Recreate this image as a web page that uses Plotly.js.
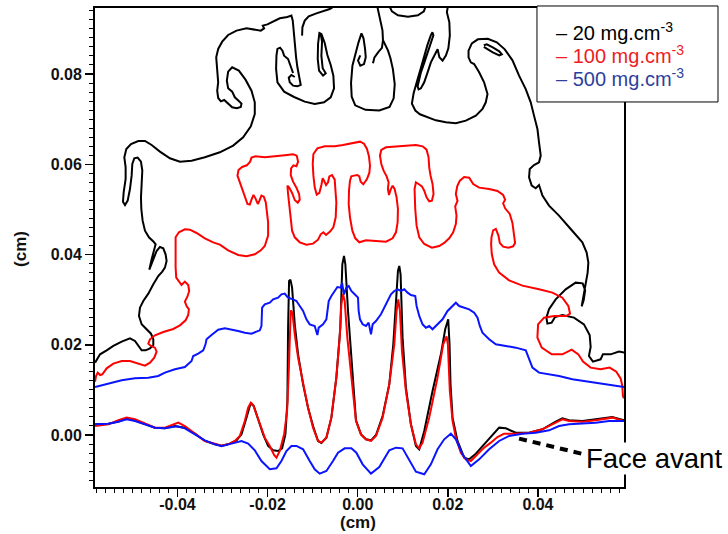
<!DOCTYPE html>
<html><head><meta charset="utf-8">
<script src="https://cdn.plot.ly/plotly-3.0.1.min.js"></script>
<style>html,body{margin:0;padding:0;background:#fff}#chart{width:728px;height:534px}</style>
</head><body><div id="chart"></div>
<script>
// ---------- data (cm) ----------
const seriesNames = ['20 mg.cm<sup>-3</sup>', '100 mg.cm<sup>-3</sup>', '500 mg.cm<sup>-3</sup>'];
const axisTitle = '(cm)';
const xTickVals = [-0.04, -0.02, 0, 0.02, 0.04];
const xTickText = ['-0.04', '-0.02', '0.00', '0.02', '0.04'];
const yTickVals = [0, 0.02, 0.04, 0.06, 0.08];
const yTickText = ['0.00', '0.02', '0.04', '0.06', '0.08'];

// 20 mg/cm3 - front face (lower contour)
const blackLowerX = [-0.05829,-0.05534,-0.05312,-0.05128,-0.04943,-0.04721,-0.04499,-0.04278,-0.04056,-0.03835,-0.03613,-0.03392,-0.03170,-0.03022,-0.02838,-0.02690,-0.02579,-0.02468,-0.02394,-0.02357,-0.02306,-0.02210,-0.02099,-0.01988,-0.01877,-0.01766,-0.01678,-0.01604,-0.01560,-0.01545,-0.01523,-0.01493,-0.01456,-0.01397,-0.01323,-0.01212,-0.01102,-0.00991,-0.00880,-0.00806,-0.00695,-0.00584,-0.00474,-0.00385,-0.00341,-0.00304,-0.00274,-0.00215,-0.00141,
-0.00038,0.00073,0.00184,0.00295,0.00406,0.00553,0.00701,0.00790,0.00849,0.00893,0.00923,0.00952,0.00996,0.01070,0.01181,0.01292,0.01366,0.01477,0.01661,0.01846,0.01942,0.02009,0.02038,0.02060,0.02105,0.02215,0.02363,0.02474,0.02622,0.02806,0.02991,0.03139,0.03287,0.03508,0.03804,0.04099,0.04395,0.04542,0.04690,0.04985,0.05281,0.05650,0.05909];
const blackLowerY = [0.00237,0.00252,0.00296,0.00370,0.00326,0.00237,0.00163,0.00148,0.00200,0.00163,0.00030,-0.00132,-0.00206,-0.00236,-0.00191,-0.00118,0.00015,0.00385,0.00643,0.00695,0.00643,0.00348,0.00015,-0.00243,-0.00339,-0.00354,-0.00295,0.00015,0.00754,0.02379,0.03413,0.03443,0.03266,0.02453,0.01788,0.01123,0.00606,0.00200,-0.00132,-0.00177,-0.00059,0.00385,0.01271,0.02379,0.03783,0.03967,0.03783,0.02749,0.01640,
0.00326,0.00015,-0.00095,-0.00118,0.00001,0.00422,0.01123,0.02010,0.03118,0.03635,0.03746,0.03561,0.02158,0.01050,0.00237,-0.00243,-0.00317,0.00089,0.00976,0.01788,0.02342,0.02564,0.02010,0.01123,0.00385,-0.00132,-0.00502,-0.00539,-0.00413,-0.00206,0.00015,0.00163,0.00148,0.00052,0.00052,0.00126,0.00296,0.00370,0.00326,0.00311,0.00348,0.00400,0.00326];

// 100 mg/cm3 - lower contour
const redLowerX = [-0.05829,-0.05534,-0.05312,-0.05128,-0.04943,-0.04721,-0.04499,-0.04278,-0.04093,-0.03982,-0.03835,-0.03613,-0.03392,-0.03170,-0.03022,-0.02875,-0.02727,-0.02616,-0.02505,-0.02431,-0.02372,-0.02320,-0.02210,-0.02062,-0.01951,-0.01855,-0.01803,-0.01729,-0.01633,-0.01567,-0.01530,-0.01508,-0.01486,-0.01449,-0.01397,-0.01323,-0.01212,-0.01102,-0.00991,-0.00880,-0.00806,-0.00695,-0.00584,-0.00474,-0.00400,-0.00363,-0.00326,-0.00289,-0.00230,-0.00141,
-0.00038,0.00073,0.00184,0.00295,0.00406,0.00553,0.00701,0.00812,0.00863,0.00900,0.00937,0.00982,0.01070,0.01181,0.01292,0.01366,0.01440,0.01587,0.01772,0.01898,0.01972,0.02001,0.02023,0.02045,0.02105,0.02178,0.02289,0.02400,0.02511,0.02659,0.02806,0.02954,0.03102,0.03250,0.03508,0.03804,0.04099,0.04395,0.04542,0.04690,0.04985,0.05281,0.05650,0.05909];
const redLowerY = [0.00200,0.00237,0.00326,0.00385,0.00348,0.00252,0.00163,0.00163,0.00237,0.00274,0.00200,0.00030,-0.00132,-0.00191,-0.00236,-0.00206,-0.00132,-0.00022,0.00311,0.00606,0.00717,0.00665,0.00348,-0.00059,-0.00243,-0.00443,-0.00502,-0.00354,0.00015,0.00533,0.01419,0.02379,0.02763,0.02712,0.02231,0.01714,0.01123,0.00606,0.00163,-0.00132,-0.00169,-0.00059,0.00385,0.01271,0.02158,0.02896,0.03118,0.02970,0.02158,0.01271,
0.00311,0.00015,-0.00095,-0.00132,-0.00022,0.00385,0.01123,0.02010,0.02749,0.03007,0.02749,0.01862,0.00976,0.00237,-0.00206,-0.00295,-0.00169,0.00385,0.01271,0.02010,0.02187,0.02010,0.01567,0.00976,0.00311,-0.00059,-0.00391,-0.00539,-0.00576,-0.00428,-0.00280,-0.00169,-0.00044,0.00030,0.00030,0.00052,0.00126,0.00274,0.00348,0.00311,0.00296,0.00326,0.00385,0.00311];

// 500 mg/cm3 - lower contour
const blueLowerX = [-0.05829,-0.05534,-0.05312,-0.05128,-0.04943,-0.04721,-0.04499,-0.04278,-0.04019,-0.03835,-0.03613,-0.03392,-0.03170,-0.03022,-0.02801,-0.02579,-0.02431,-0.02284,-0.02136,-0.01951,-0.01803,-0.01693,-0.01582,-0.01471,-0.01360,-0.01212,-0.01065,-0.00954,-0.00843,-0.00695,-0.00548,-0.00437,-0.00289,-0.00141,-0.00030,0.00051,
0.00110,0.00295,0.00479,0.00701,0.00849,0.00996,0.01144,0.01292,0.01477,0.01624,0.01772,0.01920,0.02068,0.02178,0.02326,0.02511,0.02695,0.02917,0.03139,0.03360,0.03656,0.03951,0.04247,0.04468,0.04690,0.04985,0.05281,0.05576,0.05909];
const blueLowerY = [0.00237,0.00252,0.00296,0.00348,0.00311,0.00237,0.00163,0.00148,0.00193,0.00148,0.00015,-0.00118,-0.00206,-0.00250,-0.00191,-0.00132,-0.00191,-0.00339,-0.00576,-0.00760,-0.00738,-0.00576,-0.00354,-0.00243,-0.00243,-0.00317,-0.00576,-0.00760,-0.00856,-0.00797,-0.00576,-0.00391,-0.00295,-0.00295,-0.00391,-0.00539,
-0.00649,-0.00856,-0.00709,-0.00339,-0.00280,-0.00295,-0.00539,-0.00812,-0.00871,-0.00649,-0.00317,-0.00095,0.00030,-0.00095,-0.00428,-0.00686,-0.00539,-0.00317,-0.00132,-0.00021,0.00030,0.00052,0.00104,0.00200,0.00237,0.00252,0.00274,0.00311,0.00311];

// 500 mg/cm3 - upper contour
const blueUpperX = [-0.05829,-0.05534,-0.05238,-0.04943,-0.04647,-0.04426,-0.04278,-0.04056,-0.03835,-0.03687,-0.03650,-0.03539,-0.03428,-0.03377,-0.03355,-0.03244,-0.03096,-0.02948,-0.02801,-0.02653,-0.02505,-0.02357,-0.02247,-0.02173,-0.02136,-0.02136,-0.02121,-0.02062,-0.01951,-0.01877,-0.01766,-0.01693,-0.01619,-0.01560,-0.01508,-0.01434,-0.01360,-0.01286,-0.01212,-0.01138,-0.01065,-0.00954,-0.00895,-0.00865,-0.00769,-0.00695,-0.00658,-0.00643,-0.00584,-0.00510,-0.00451,-0.00378,-0.00348,-0.00304,-0.00252,-0.00200,-0.00141,-0.00067,0.00007,
0.00021,0.00051,0.00110,0.00184,0.00243,0.00295,0.00332,0.00406,0.00516,0.00627,0.00738,0.00812,0.00886,0.00960,0.01034,0.01107,0.01181,0.01277,0.01307,0.01366,0.01440,0.01514,0.01587,0.01661,0.01772,0.01883,0.01994,0.02105,0.02178,0.02252,0.02363,0.02474,0.02585,0.02659,0.02710,0.02769,0.02917,0.03065,0.03287,0.03508,0.03730,0.03804,0.03878,0.04025,0.04247,0.04468,0.04764,0.05133,0.05503,0.05909];
const blueUpperY = [0.01064,0.01138,0.01212,0.01256,0.01271,0.01308,0.01382,0.01456,0.01508,0.01640,0.01751,0.01803,0.01877,0.02010,0.02121,0.02217,0.02335,0.02364,0.02342,0.02305,0.02268,0.02246,0.02291,0.02320,0.02416,0.02638,0.02822,0.02896,0.02933,0.03007,0.03044,0.03118,0.03133,0.03059,0.03029,0.03007,0.02970,0.02859,0.02749,0.02564,0.02453,0.02416,0.02217,0.02379,0.02453,0.02564,0.02786,0.02970,0.03081,0.03192,0.03280,0.03266,0.03376,0.03118,0.03266,0.03303,0.03192,0.03118,0.03044,
0.02749,0.02564,0.02453,0.02416,0.02490,0.02231,0.02453,0.02527,0.02675,0.02896,0.03118,0.03192,0.03229,0.03192,0.03229,0.03155,0.03103,0.03081,0.02859,0.02638,0.02453,0.02379,0.02416,0.02342,0.02453,0.02564,0.02749,0.02859,0.02933,0.02859,0.02822,0.02786,0.02712,0.02601,0.02416,0.02268,0.02121,0.02010,0.01973,0.01936,0.01877,0.01677,0.01493,0.01382,0.01345,0.01308,0.01234,0.01182,0.01138,0.01064];

// 100 mg/cm3 - upper (mushroom) contour
const redUpperX = [-0.05829,-0.05807,-0.05770,-0.05718,-0.05667,-0.05571,-0.05423,-0.05238,-0.05054,-0.04869,-0.04721,-0.04610,-0.04514,-0.04463,-0.04499,-0.04588,-0.04647,-0.04610,-0.04499,-0.04315,-0.04093,-0.03945,-0.03820,-0.03761,-0.03746,-0.03798,-0.03835,-0.03783,-0.03739,-0.03761,-0.03835,-0.03909,-0.03968,-0.04027,-0.04041,-0.04041,
-0.04041,-0.03968,-0.03835,-0.03724,-0.03576,-0.03392,-0.03207,-0.03059,
-0.02875,-0.02653,-0.02468,-0.02284,-0.02150,-0.02062,
-0.01988,-0.01988,-0.02010,-0.02040,-0.02084,-0.02136,-0.02180,-0.02217,-0.02269,-0.02313,-0.02357,-0.02394,-0.02446,-0.02498,-0.02557,-0.02616,-0.02668,-0.02645,-0.02564,-0.02461,-0.02387,-0.02357,-0.02269,-0.02062,-0.01840,-0.01619,-0.01434,-0.01353,-0.01323,-0.01360,-0.01427,-0.01478,-0.01486,-0.01434,-0.01360,-0.01301,-0.01286,-0.01330,-0.01397,-0.01456,-0.01523,-0.01560,-0.01545,-0.01515,-0.01486,-0.01456,-0.01397,-0.01286,-0.01138,-0.00991,-0.00880,-0.00821,-0.00762,-0.00703,-0.00614,-0.00540,-0.00488,-0.00474,-0.00496,-0.00510,-0.00570,-0.00629,-0.00658,-0.00703,-0.00747,-0.00777,-0.00806,-0.00850,-0.00909,-0.00954,-0.00983,-0.00998,-0.00983,-0.00895,-0.00732,-0.00510,-0.00326,-0.00141,0.00051,
0.00140,0.00206,0.00250,0.00273,0.00258,0.00206,0.00125,0.00066,0.00036,-0.00008,-0.00082,-0.00141,-0.00171,-0.00193,-0.00200,-0.00171,-0.00119,-0.00053,0.00036,0.00184,0.00406,0.00627,0.00775,0.00849,0.00886,0.00893,0.00863,0.00819,0.00775,0.00731,0.00694,0.00671,0.00686,0.00642,0.00575,0.00524,0.00494,0.00524,0.00627,0.00849,0.01070,0.01292,0.01440,0.01528,0.01573,0.01587,0.01617,0.01661,0.01683,0.01647,0.01587,0.01528,0.01477,0.01425,0.01351,0.01292,0.01262,0.01277,0.01307,0.01366,0.01477,0.01647,0.01809,0.01920,0.02031,0.02119,0.02178,0.02193,0.02164,0.02215,0.02178,0.02208,0.02267,0.02363,0.02474,0.02563,0.02696,0.02917,0.03102,0.03227,0.03272,0.03227,0.03272,0.03375,0.03434,0.03471,0.03493,0.03449,0.03346,0.03227,0.03154,0.03124,0.03065,0.03006,0.02969,0.02961,
0.02976,0.03028,0.03139,0.03360,0.03656,0.04025,0.04321,0.04542,0.04675,0.04712,0.04631,0.04358,0.04136,0.04003,0.03988,0.04084,0.04306,0.04542,0.04749,0.04897,0.05000,0.05170,0.05392,0.05591,0.05739,0.05835,0.05872,0.05887,0.05909];
const redUpperY = [0.01182,0.01308,0.01382,0.01330,0.01345,0.01478,0.01581,0.01640,0.01640,0.01581,0.01537,0.01604,0.01714,0.01847,0.01936,0.01973,0.02025,0.02121,0.02209,0.02283,0.02350,0.02431,0.02542,0.02660,0.02786,0.02859,0.02956,0.03059,0.03192,0.03325,0.03399,0.03325,0.03399,0.03487,0.03709,0.04004,
0.04381,0.04492,0.04558,0.04551,0.04477,0.04359,0.04270,0.04218,
0.04093,0.03990,0.03960,0.04004,0.04093,0.04189,
0.04418,0.04713,0.04972,0.05157,0.05282,0.05305,0.05194,0.05120,0.05245,0.05319,0.05216,0.05105,0.05120,0.05267,0.05452,0.05600,0.05748,0.05873,0.05940,0.05977,0.06058,0.06147,0.06176,0.06154,0.06169,0.06198,0.06220,0.06191,0.06058,0.05955,0.05977,0.05910,0.05762,0.05615,0.05482,0.05341,0.05216,0.05149,0.05208,0.05364,0.05489,0.05526,0.05341,0.05083,0.04787,0.04529,0.04381,0.04270,0.04218,0.04241,0.04329,0.04448,0.04492,0.04433,0.04507,0.04603,0.04824,0.05157,0.05452,0.05659,0.05762,0.05733,0.05600,0.05541,0.05637,0.05689,0.05541,0.05364,0.05327,0.05489,0.05748,0.06006,0.06228,0.06353,0.06398,0.06398,0.06427,0.06457,0.06501,
0.06457,0.06339,0.06176,0.05969,0.05807,0.05674,0.05556,0.05615,0.05733,0.05762,0.05748,0.05733,0.05637,0.05415,0.05120,0.04824,0.04529,0.04359,0.04270,0.04315,0.04300,0.04285,0.04359,0.04492,0.04713,0.05009,0.05267,0.05452,0.05526,0.05437,0.05319,0.05452,0.05600,0.05733,0.05858,0.06006,0.06191,0.06316,0.06376,0.06398,0.06413,0.06427,0.06398,0.06324,0.06154,0.05932,0.05748,0.05563,0.05341,0.05194,0.05179,0.05267,0.05415,0.05511,0.05563,0.05600,0.05452,0.05009,0.04640,0.04381,0.04233,0.04152,0.04189,0.04256,0.04359,0.04492,0.04677,0.04861,0.05068,0.05186,0.05341,0.05511,0.05637,0.05718,0.05703,0.05563,0.05482,0.05452,0.05408,0.05319,0.05216,0.05134,0.05024,0.04898,0.04699,0.04455,0.04256,0.04182,0.04152,0.04174,0.04256,0.04418,0.04566,0.04536,0.04381,0.04226,
0.04004,0.03783,0.03598,0.03428,0.03310,0.03229,0.03155,0.03044,0.02859,0.02690,0.02638,0.02638,0.02601,0.02453,0.02158,0.01936,0.01788,0.01788,0.01892,0.01788,0.01626,0.01493,0.01456,0.01493,0.01404,0.01256,0.01086,0.00865,0.00813];

// 20 mg/cm3 - upper contour, drawn as several pieces
const blackLeftX = [-0.05829,-0.05718,-0.05571,-0.05423,-0.05238,-0.05054,-0.04943,-0.04869,-0.04795,-0.04706,-0.04610,-0.04536,-0.04536,-0.04588,-0.04684,-0.04795,-0.04854,-0.04832,-0.04758,-0.04647,-0.04536,-0.04426,-0.04337,-0.04278,-0.04241,-0.04263,-0.04315,-0.04389,-0.04463,-0.04536,-0.04603,-0.04625,-0.04573,-0.04514,-0.04485,
-0.04529,-0.04633,-0.04721,-0.04773,-0.04802,-0.04810,-0.04795,-0.04780,-0.04810,-0.04884,-0.04958,-0.05002,-0.05017,-0.05054,-0.05105,-0.05164,-0.05209,-0.05194,-0.05150,-0.05150,-0.05179,-0.05135,-0.05031,-0.04869,-0.04721,-0.04573,-0.04389,-0.04167,-0.03945,-0.03687,-0.03392,-0.03059,-0.02764,-0.02542,-0.02372,-0.02284,-0.02284,-0.02357,-0.02490,-0.02638,-0.02786,-0.02875,-0.02904,-0.02875,-0.02786,-0.02727,-0.02638,-0.02579,-0.02594,-0.02682,-0.02786,-0.02875,-0.02963,-0.03037,-0.03096,-0.03118,-0.03096,-0.03111,-0.03125,-0.03140,-0.03096,-0.03007,-0.02875,-0.02690,-0.02468,-0.02284,-0.02150,-0.02077,-0.02106,-0.02003,-0.01877,-0.01729,-0.01560,-0.01471,-0.01441,-0.01419,-0.01397,-0.01367,-0.01338,-0.01308,-0.01279,-0.01264,-0.01338,-0.01434,-0.01508,-0.01530,-0.01471,-0.01397];
const blackLeftY = [0.01604,0.01788,0.01877,0.01973,0.02069,0.02143,0.02084,0.01973,0.01877,0.01877,0.01921,0.01995,0.02121,0.02246,0.02342,0.02453,0.02638,0.02822,0.02970,0.03133,0.03340,0.03524,0.03620,0.03709,0.03857,0.04004,0.04137,0.04167,0.04078,0.03894,0.03694,0.03665,0.03894,0.04115,0.04226,
0.04285,0.04381,0.04529,0.04750,0.05009,0.05267,0.05563,0.05858,0.06058,0.06147,0.06132,0.06006,0.05748,0.05452,0.05194,0.05098,0.05171,0.05378,0.05674,0.05932,0.06154,0.06339,0.06449,0.06516,0.06516,0.06427,0.06280,0.06132,0.06058,0.06080,0.06154,0.06265,0.06413,0.06597,0.06841,0.07114,0.07373,0.07631,0.07875,0.08075,0.08149,0.08053,0.07853,0.07683,0.07609,0.07484,0.07402,0.07343,0.07269,0.07240,0.07262,0.07343,0.07425,0.07395,0.07469,0.07631,0.07816,0.08001,0.08149,0.08370,0.08555,0.08717,0.08865,0.08961,0.09013,0.08983,0.08961,0.09013,0.09072,0.09101,0.09161,0.09235,0.09264,0.09294,0.09183,0.08924,0.08629,0.08370,0.08149,0.08001,0.07853,0.07757,0.07727,0.07742,0.07816,0.07919,0.07978,0.07934];
const blackFinger1X = [-0.01434,-0.01486,-0.01545,-0.01633,-0.01670,-0.01722,-0.01781,-0.01803,-0.01811,-0.01781,-0.01633,-0.01412,-0.01175,-0.00954,-0.00747,-0.00599,-0.00525,-0.00540,-0.00599,-0.00673,-0.00732,-0.00806,-0.00850,-0.00880,-0.00887,-0.00858,-0.00769,-0.00710,-0.00777,-0.00806,-0.00791,-0.00821];
const blackFinger1Y = [0.08023,0.08185,0.08333,0.08407,0.08518,0.08584,0.08555,0.08407,0.08112,0.07816,0.07609,0.07491,0.07388,0.07336,0.07373,0.07484,0.07683,0.07964,0.08200,0.08422,0.08688,0.08887,0.08909,0.08666,0.08333,0.08075,0.07964,0.08016,0.08127,0.08407,0.08717,0.08887];
const blackTopX = [-0.01234,-0.01227,-0.01175,-0.01087,-0.00917,-0.00732,-0.00621,-0.00547,-0.00474];
const blackTopY = [0.08850,0.09035,0.09183,0.09279,0.09345,0.09397,0.09441,0.09486,0.09552];
const blackFinger2X = [0.00439,0.00494,0.00550,0.00561,0.00616,0.00671,0.00727,0.00782,0.00822,0.00798,0.00707,0.00479,0.00173,-0.00055,-0.00133,-0.00148,-0.00117,-0.00049,0.00018,0.00084,0.00129,0.00162,0.00179,0.00140,0.00058,0.00007,0.00058];
const blackFinger2Y = [0.09478,0.09234,0.08968,0.08747,0.08636,0.08525,0.08348,0.08104,0.07772,0.07461,0.07268,0.07191,0.07206,0.07306,0.07497,0.07803,0.08184,0.08481,0.08702,0.08902,0.08791,0.08569,0.08374,0.08221,0.08184,0.08297,0.08412];
const blackFlameX = [0.00339,0.00372,0.00461,0.00538,0.00561];
const blackFlameY = [0.08237,0.08370,0.08492,0.08580,0.08747];
const blackBowlX = [0.00694,0.00760,0.00893,0.01115,0.01336,0.01469,0.01514];
const blackBowlY = [0.09522,0.09389,0.09301,0.09267,0.09301,0.09389,0.09522];
const blackRightX = [0.02001,0.01979,0.02034,0.02045,0.02012,0.01957,0.01884,0.01813,0.01773,0.01697,0.01624,0.01551,0.01476,0.01403,0.01352,0.01330,0.01403,0.01480,0.01551,0.01624,0.01680,0.01658,0.01622,0.01547,0.01469,0.01394,0.01316,0.01241,0.01203,0.01279,0.01381,0.01547,0.01735,0.01957,0.02178,0.02400,0.02622,0.02770,0.02843,0.02881,0.02805,0.02695,0.02584,0.02511,0.02460,0.02460,0.02533,0.02666,0.02887,0.03087,0.03264,0.03435,0.03581,0.03729,0.03840,0.03913,0.03951,0.03989,0.04024,0.04062,0.04024,0.03913,0.03818,0.03803,0.03862,0.03951,0.04024,0.04100,0.04246,0.04467,0.04727,0.04986,0.05081,0.05119,0.05103,0.05048,0.05004,0.04970,0.05015,0.05048,0.04993,0.04837,0.04616,0.04394,0.04246,0.04188,0.04210,0.04306,0.04379,0.04543,0.04800,0.05021,0.05148,0.05170,0.05132,0.05221,0.05391,0.05442,0.05613,0.05797,0.05923];
const blackRightY = [0.09500,0.09367,0.09145,0.08857,0.08569,0.08408,0.08297,0.08370,0.08547,0.08408,0.08259,0.08037,0.07816,0.07683,0.07661,0.07727,0.08037,0.08259,0.08481,0.08702,0.08857,0.08924,0.08857,0.08640,0.08337,0.08106,0.07840,0.07572,0.07344,0.07191,0.07107,0.07038,0.06974,0.06929,0.06907,0.06967,0.07078,0.07224,0.07373,0.07557,0.07816,0.08037,0.08221,0.08259,0.08370,0.08518,0.08680,0.08769,0.08780,0.08702,0.08547,0.08303,0.07964,0.07667,0.07373,0.07078,0.06929,0.06781,0.06486,0.06192,0.06043,0.05983,0.05895,0.05711,0.05527,0.05467,0.05540,0.05305,0.05083,0.04862,0.04565,0.04270,0.04042,0.03820,0.03599,0.03317,0.03051,0.02852,0.02985,0.03207,0.03362,0.03377,0.03229,0.03007,0.02786,0.02602,0.02469,0.02491,0.02615,0.02659,0.02602,0.02453,0.02216,0.01950,0.01751,0.01627,0.01678,0.01788,0.01788,0.01848,0.01826];
const blackSlitX = [0.02799,0.02865,0.02998,0.03142,0.03198,0.03142,0.02998,0.02865,0.02799];
const blackSlitY = [0.08636,0.08658,0.08591,0.08503,0.08436,0.08414,0.08481,0.08558,0.08603];

// "Face avant" pointer (start, end) in cm
const pointerX = [0.03581, 0.04964];
const pointerY = [-0.00080, -0.00412];

// ---------- drawing ----------
const BLACK = '#000000', RED = '#ff0000', BLUE = '#0a14ff';
function ln(x, y, c) {
  return {x: x, y: y, type: 'scatter', mode: 'lines', line: {color: c, width: 2},
          showlegend: false, hoverinfo: 'skip'};
}
const traces = [
  ln(blackLeftX, blackLeftY, BLACK), ln(blackFinger1X, blackFinger1Y, BLACK),
  ln(blackTopX, blackTopY, BLACK), ln(blackFinger2X, blackFinger2Y, BLACK),
  ln(blackFlameX, blackFlameY, BLACK), ln(blackBowlX, blackBowlY, BLACK),
  ln(blackRightX, blackRightY, BLACK), ln(blackSlitX, blackSlitY, BLACK),
  ln(blackLowerX, blackLowerY, BLACK),
  ln(redUpperX, redUpperY, RED), ln(redLowerX, redLowerY, RED),
  ln(blueUpperX, blueUpperY, BLUE), ln(blueLowerX, blueLowerY, BLUE)
];

const FAMILY = 'Liberation Sans, Arial, sans-serif';
const tickFont = {family: FAMILY, size: 16, color: '#111', weight: 'bold'};
const titleFont = {family: FAMILY, size: 17, color: '#111', weight: 'bold'};
function axis(range, vals, text, labelShift) {
  return {
    range: range, tickmode: 'array', tickvals: vals, ticktext: text,
    ticks: 'outside', ticklen: 8, tickwidth: 1.5, tickcolor: '#000',
    ticklabelstandoff: labelShift,
    minor: {tickmode: 'linear', tick0: 0, dtick: 0.002, ticks: 'outside', ticklen: 4, tickwidth: 1, tickcolor: '#000'},
    showline: true, linecolor: '#000', linewidth: 2, mirror: true,
    showgrid: false, zeroline: false, tickfont: tickFont
  };
}
const legendColors = [BLACK, '#ee1c24', '#2e3f9e'];
const legendY = [0.9499, 0.9019, 0.8559];
const annotations = seriesNames.map((s, i) => ({
  xref: 'paper', yref: 'paper', x: 0.8686, y: legendY[i], xanchor: 'left', yanchor: 'middle',
  text: '– ' + s, showarrow: false,
  font: {family: FAMILY, size: 20, color: legendColors[i]}
}));
annotations.push({
  xref: 'paper', yref: 'paper', x: 0.9263, y: 0.0605, xanchor: 'left', yanchor: 'middle',
  text: 'Face avant', showarrow: false, bgcolor: '#ffffff', borderpad: 0,
  font: {family: FAMILY, size: 27.5, color: '#000'}
});
// axis titles
annotations.push({
  xref: 'paper', yref: 'paper', x: 0.497, y: -0.075, xanchor: 'center', yanchor: 'middle',
  text: axisTitle, showarrow: false, font: titleFont
});
annotations.push({
  xref: 'paper', yref: 'paper', x: -0.14, y: 0.497, xanchor: 'center', yanchor: 'middle',
  text: axisTitle, textangle: -90, showarrow: false, font: titleFont
});

const layout = {
  width: 728, height: 534,
  margin: {l: 95, r: 104, t: 8, b: 47},
  paper_bgcolor: '#fff', plot_bgcolor: '#fff',
  xaxis: axis([-0.0583, 0.0591], xTickVals, xTickText, -6),
  yaxis: axis([-0.01152, 0.09463], yTickVals, yTickText, 0),
  showlegend: false,
  shapes: [
    {type: 'line', xref: 'x', yref: 'y', x0: pointerX[0], y0: pointerY[0], x1: pointerX[1], y1: pointerY[1],
     line: {color: '#000', width: 4, dash: '8px,6px'}},
    {type: 'rect', xref: 'paper', yref: 'paper', x0: 0.8355, x1: 1.1777, y0: 0.8038, y1: 1.0042,
     fillcolor: '#fff', line: {color: '#000', width: 1}, layer: 'above'}
  ],
  annotations: annotations
};
Plotly.newPlot('chart', traces, layout, {staticPlot: true, displayModeBar: false});
</script></body></html>
